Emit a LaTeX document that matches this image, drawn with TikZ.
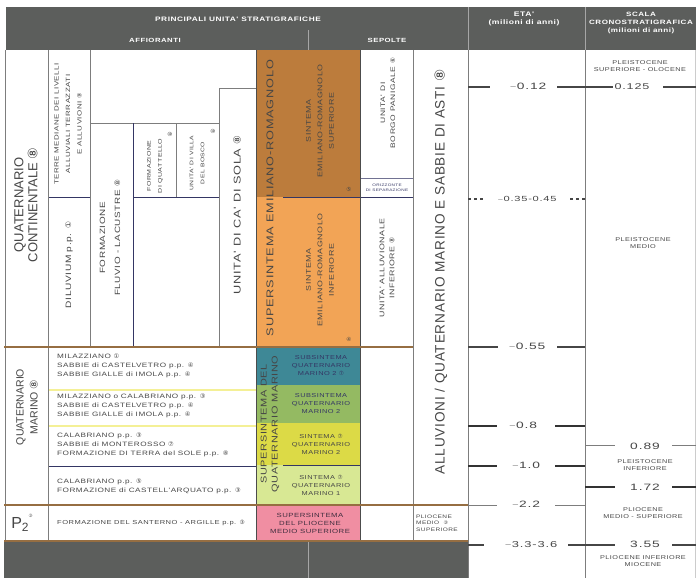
\documentclass[tikz,border=0pt]{standalone}
\usepackage{fontspec}
\setmainfont{Liberation Sans}
\newfontfamily\djv{DejaVu Sans}
\newfontfamily\wf[FakeStretch=1.3,LetterSpace=8]{Liberation Sans}
\newfontfamily\wfa[FakeStretch=1.5,LetterSpace=10]{Liberation Sans}
\newfontfamily\lsf[LetterSpace=6]{Liberation Sans}
\newcommand{\cnum}[1]{{\djv #1}}
\newcommand{\fs}[1]{\fontsize{#1}{#1}\selectfont}
\definecolor{hdr}{RGB}{92,94,92}
\definecolor{brn}{RGB}{188,124,60}
\definecolor{org}{RGB}{242,164,86}
\definecolor{tealc}{RGB}{62,136,150}
\definecolor{grn}{RGB}{148,186,98}
\definecolor{ylw}{RGB}{220,218,70}
\definecolor{lgr}{RGB}{216,232,148}
\definecolor{pnk}{RGB}{240,142,162}
\definecolor{sepc}{RGB}{150,110,66}
\definecolor{ylin}{RGB}{244,240,150}
\definecolor{dblu}{RGB}{52,54,100}
\definecolor{gl}{RGB}{125,125,125}
\definecolor{txt}{RGB}{70,70,70}
\begin{document}
\begin{tikzpicture}[x=1pt,y=-1pt,
  hd/.style={text=white,font=\wf\bfseries\fontsize{6.4}{8}\selectfont,align=center,inner sep=0pt},
  sm/.style={text=txt,font=\wf\fontsize{5.6}{7.6}\selectfont,align=center,inner sep=0pt},
  bg/.style={text=txt,align=center,inner sep=0pt},
  rl/.style={text=txt,font=\wf\fontsize{6.3}{9}\selectfont,align=left,anchor=west,inner sep=0pt},
  vr/.style={rotate=90},
  age/.style={text=txt,font=\wfa\fontsize{9.2}{9}\selectfont,inner sep=0pt},
  tk/.style={draw=txt,line width=1.1pt},
  tkb/.style={draw=black!80,line width=2pt},
  tkl/.style={draw=gl,line width=1pt},
  sepl/.style={draw=sepc,line width=1.6pt},
  gline/.style={draw=gl,line width=0.8pt},
  dline/.style={draw=dblu,line width=1pt}]
\useasboundingbox (0,0) rectangle (696,578);
\fill[white] (0,0) rectangle (696,578);
% header
\fill[hdr] (6,7) rectangle (696,50);
\draw[gray!70,line width=0.6pt] (468,7) -- (468,50) (585,7) -- (585,50) (308,30) -- (308,50);
\node[hd] (h1) at (238,19) {PRINCIPALI UNITA' STRATIGRAFICHE};
\node[hd,font=\wf\bfseries\fontsize{6}{8}\selectfont] (h2) at (155,40) {AFFIORANTI};
\node[hd,font=\wf\bfseries\fontsize{6}{8}\selectfont] (h3) at (387,40) {SEPOLTE};
\node[hd,font=\wf\bfseries\fontsize{6.6}{8}\selectfont] (h4) at (524,19) {ETA'\\(milioni di anni)};
\node[hd,font=\wf\bfseries\fontsize{6.2}{7.8}\selectfont] (h5) at (641,23) {SCALA\\CRONOSTRATIGRAFICA\\(milioni di anni)};
% bottom band
\fill[hdr] (4,541) rectangle (468,578);
\draw[gray!70,line width=0.6pt] (308,541) -- (308,578);
% colour fills
\fill[brn] (256,50) rectangle (360,197);
\fill[org] (256,197) rectangle (360,347);
\fill[tealc] (256,348) rectangle (360,385);
\fill[grn] (256,385) rectangle (360,423);
\fill[ylw] (256,423) rectangle (360,465);
\fill[lgr] (256,465) rectangle (360,505);
\fill[pnk] (256,505) rectangle (360,541);
% marino row lines
\draw[ylin,line width=2pt] (48,390) -- (256,390) (48,426) -- (256,426);
\draw[dline] (48,466) -- (256,466) (283,465) -- (360,465);
% continentale inner lines
\draw[gline] (90,50) -- (90,347);
\draw[dline] (48,197) -- (90,197);
\draw[gline] (90,123) -- (219,123);
\draw[dline] (133,123) -- (133,347);
\draw[gline] (176,123) -- (176,197);
\draw[dline] (133,197) -- (219,197);
\draw[gline] (219,88) -- (219,347) (219,88) -- (256,88);
\draw[dline] (283,197) -- (413,197);
\draw[draw=dblu!70,line width=0.8pt] (360,178) -- (413,178);
% main verticals
\draw[gline] (5,50) -- (5,541);
\draw[gline] (48,50) -- (48,541);
\draw[draw=black!70,line width=1pt] (256,50) -- (256,541) (360,50) -- (360,541);
\draw[gline] (413,50) -- (413,541);
\draw[gline] (468,50) -- (468,578);
\draw[gline] (585,50) -- (585,578);
\draw[draw=gray!40,line width=0.6pt] (695,50) -- (695,578);
% section separators
\draw[sepl] (4,347) -- (413,347);
\draw[sepl] (4,505) -- (468,505);
\draw[sepl] (4,541) -- (468,541);
% continentale texts
\node[bg,vr,font=\fontsize{13}{14}\selectfont] (qc) at (26,205) {QUATERNARIO\\CONTINENTALE \cnum{⑧}};
\node[sm,vr,font=\wf\fontsize{6.1}{11.5}\selectfont] (tm) at (68,124) {TERRE MEDIANE DEI LIVELLI\\ALLUVIALI TERRAZZATI\\E ALLUVIONI \cnum{⑨}};
\node[sm,vr,font=\wf\fs{7.8}] (dil) at (69,265) {DILUVIUM p.p. \cnum{①}};
\node[sm,vr,font=\wf\fontsize{7.6}{15}\selectfont] (ffl) at (110,238) {FORMAZIONE\\FLUVIO - LACUSTRE \cnum{⑧}};
\node[sm,vr,font=\wf\fontsize{5.4}{11}\selectfont] (fq) at (155,166) {FORMAZIONE\\DI QUATTELLO};
\node[sm] (fqn) at (170,134) {\cnum{⑩}};
\node[sm,vr,font=\wf\fontsize{5.2}{11}\selectfont] (uvb) at (197,163) {UNITA' DI VILLA\\DEL BOSCO};
\node[sm] (uvbn) at (213,131) {\cnum{⑩}};
\node[sm,vr,font=\wf\fs{9.8}] (ucs) at (237,215) {UNITA' DI CA' DI SOLA \cnum{⑧}};
\node[sm,vr,font=\wf\fs{9.8}] (ser) at (270,198) {SUPERSINTEMA EMILIANO-ROMAGNOLO};
\node[sm,vr,font=\wf\fontsize{6.8}{11.5}\selectfont] (ses) at (320,121) {SINTEMA\\EMILIANO-ROMAGNOLO\\SUPERIORE};
\node[sm] (sesn) at (349,189) {\cnum{⑤}};
\node[sm,vr,font=\wf\fontsize{6.8}{11.5}\selectfont] (sei) at (320,270) {SINTEMA\\EMILIANO-ROMAGNOLO\\INFERIORE};
\node[sm] (sein) at (349,339) {\cnum{④}};
\node[sm,vr,font=\wf\fontsize{6.5}{10}\selectfont] (ubp) at (388,103) {UNITA' DI\\BORGO PANIGALE \cnum{⑥}};
\node[sm,text=dblu,font=\wf\fontsize{3.6}{5}\selectfont] (oriz) at (387,187.5) {ORIZZONTE\\DI SEPARAZIONE};
\node[sm,vr,font=\wf\fontsize{6.8}{10}\selectfont] (uai) at (387,268) {UNITA' ALLUVIONALE\\INFERIORE \cnum{⑧}};
\node[bg,vr,font=\lsf\fontsize{13.6}{14}\selectfont] (all) at (441,272) {ALLUVIONI / QUATERNARIO MARINO E SABBIE DI ASTI \cnum{⑧}};
% marino texts
\node[bg,vr,font=\fontsize{10.5}{14}\selectfont] (qm) at (27,407) {QUATERNARIO\\MARINO \cnum{⑧}};
\node[rl] (ra) at (57,366) {MILAZZIANO \cnum{①}\\SABBIE di CASTELVETRO p.p. \cnum{④}\\SABBIE GIALLE di IMOLA p.p. \cnum{④}};
\node[rl] (rb) at (57,406) {MILAZZIANO o CALABRIANO p.p. \cnum{③}\\SABBIE di CASTELVETRO p.p. \cnum{④}\\SABBIE GIALLE di IMOLA p.p. \cnum{④}};
\node[rl] (rc) at (57,445) {CALABRIANO p.p. \cnum{③}\\SABBIE di MONTEROSSO \cnum{⑦}\\FORMAZIONE DI TERRA del SOLE p.p. \cnum{⑧}};
\node[rl] (rd) at (57,486) {CALABRIANO p.p. \cnum{⑤}\\FORMAZIONE di CASTELL'ARQUATO p.p. \cnum{③}};
\node[sm,vr,font=\wf\fontsize{8.4}{11}\selectfont] (sqm) at (270,424) {SUPERSINTEMA DEL\\QUATERNARIO MARINO};
\node[sm,text=dblu,font=\wf\fontsize{5.7}{8}\selectfont] (b1) at (321,366) {SUBSINTEMA\\QUATERNARIO\\MARINO 2 \cnum{⑦}};
\node[sm,text=dblu,font=\wf\fontsize{5.7}{8}\selectfont] (b2) at (321,404) {SUBSINTEMA\\QUATERNARIO\\MARINO 2};
\node[sm,font=\wf\fontsize{5.7}{8}\selectfont] (b3) at (321,444) {SINTEMA \cnum{⑦}\\QUATERNARIO\\MARINO 2};
\node[sm,font=\wf\fontsize{5.7}{8}\selectfont] (b4) at (321,485) {SINTEMA \cnum{⑦}\\QUATERNARIO\\MARINO 1};
% P2 row
\node[text=txt,font=\fontsize{16}{17}\selectfont,inner sep=0pt] (p2) at (22,523) {P\raisebox{-0.35ex}{\fontsize{12}{12}\selectfont 2}\raisebox{1.3ex}{\cnum{\fontsize{4.5}{4.5}\selectfont ③}}};
\node[rl,font=\wf\fontsize{5.8}{6}\selectfont] (rp) at (57,523) {FORMAZIONE DEL SANTERNO - ARGILLE p.p. \cnum{③}};
\node[sm,text=dblu!60!pnk!50!black,font=\wf\fontsize{6}{8}\selectfont] (bp) at (310,523) {SUPERSINTEMA\\DEL PLIOCENE\\MEDIO SUPERIORE};
\node[rl,font=\wf\fontsize{5}{6.6}\selectfont] (pms) at (416,523) {PLIOCENE\\MEDIO \ \cnum{③}\\SUPERIORE};
% ETA ticks
\node[age] (a1) at (528,87) {$-$0.12};
\draw[tk] (468,87) -- (490,87) (557,87) -- (613,87);
\node[age,font=\wfa\fontsize{7.4}{8}\selectfont] (a2) at (527,199) {$-$0.35-0.45};
\draw[tk,dashed] (468,199) -- (486,199) (570,199) -- (585,199);
\node[age] (a3) at (527,347) {$-$0.55};
\draw[tk] (468,347) -- (498,347) (557,347) -- (585,347);
\node[age] (a4) at (523,426) {$-$0.8};
\draw[tkb] (468,426) -- (497,426) (555,426) -- (585,426);
\node[age] (a5) at (526,466) {$-$1.0};
\draw[tkb] (468,466) -- (497,466) (555,466) -- (585,466);
\node[age] (a6) at (526,505) {$-$2.2};
\draw[tkl] (468,505) -- (497,505) (555,505) -- (585,505);
\node[age,font=\wfa\fontsize{8.6}{9}\selectfont] (a7) at (531,545) {$-$3.3-3.6};
\draw[tk] (468,545) -- (484,545) (568,545) -- (615,545) (672,545) -- (696,545);
% scale column
\node[sm] (s1) at (640,66) {PLEISTOCENE\\SUPERIORE - OLOCENE};
\node[age,font=\wfa\fontsize{8.4}{9}\selectfont] (s2) at (632,87) {0.125};
\draw[tk] (663,87) -- (696,87);
\node[sm] (s3) at (643,243) {PLEISTOCENE\\MEDIO};
\node[age] (s4) at (645,446) {0.89};
\draw[tkl] (585,445) -- (615,445) (672,445) -- (696,445);
\node[sm] (s5) at (645,465) {PLEISTOCENE\\INFERIORE};
\node[age] (s6) at (645,487) {1.72};
\draw[tkb] (585,487) -- (615,487) (672,487) -- (696,487);
\node[sm] (s7) at (643,513) {PLIOCENE\\MEDIO - SUPERIORE};
\node[age] (s8) at (645,544) {3.55};
\node[sm] (s9) at (643,561) {PLIOCENE INFERIORE\\MIOCENE};
\end{tikzpicture}
\end{document}
